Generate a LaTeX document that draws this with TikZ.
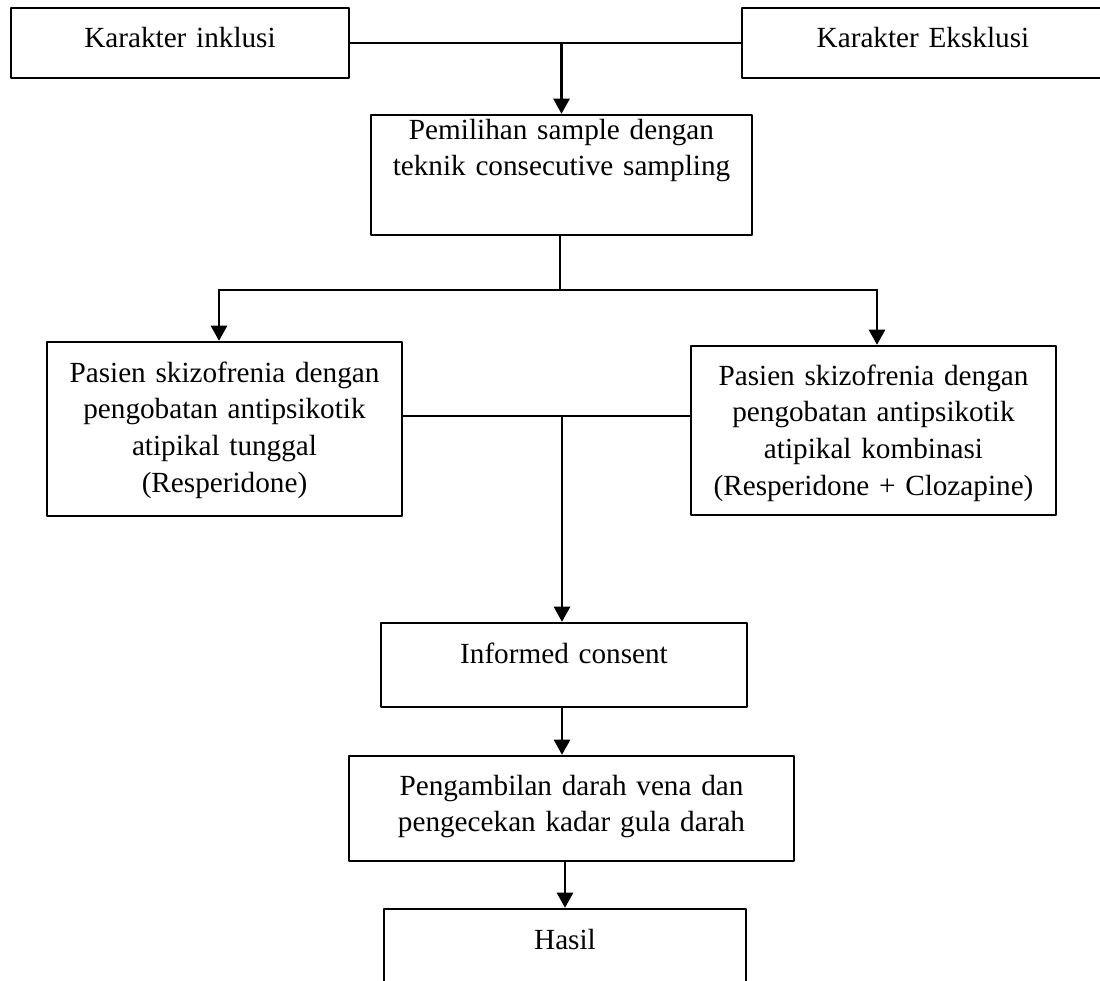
\documentclass[tikz,border=0pt]{standalone}
\usepackage{fontspec}
\setmainfont{Liberation Serif}
\usepackage{tikz}
\usetikzlibrary{calc}
\usetikzlibrary{arrows.meta}
\tikzstyle{every node}=[font=\fontsize{12}{15.08}\selectfont]
\tikzstyle{kotak}=[draw,line width=1pt,inner sep=0pt,align=center]

\begin{document}
\begin{tikzpicture}[line cap=round,line join=round,>={Triangle[width=6.6pt,length=6.2pt]},x=0.4108pt,y=0.4108pt,line width=1pt]
            \useasboundingbox (0,0) rectangle (1100,-980);
            % kriteria
            \node[kotak,text width=138.85pt,text height=16.02pt,text depth=12.73pt] (inklusi) at (180,-43) {Karakter inklusi};
            \node[kotak,text width=148.71pt,text height=16.02pt,text depth=12.73pt] (eksklusi) at (923,-43) {Karakter Eksklusi};
            \node[kotak,text width=156.51pt,text height=9.86pt,text depth=39.44pt] (sampel) at (561.5,-175) {Pemilihan sample dengan\\teknik consecutive sampling};
            % kelompok pasien
            \node[kotak,text width=145.83pt,text height=16.43pt,text depth=55.05pt] (tunggal) at (224.5,-429) {Pasien skizofrenia dengan\\pengobatan antipsikotik\\atipikal tunggal\\(Resperidone)};
            \node[kotak,text width=149.94pt,text height=16.02pt,text depth=53.40pt] (kombinasi) at (873.5,-430.5) {Pasien skizofrenia dengan\\pengobatan antipsikotik\\atipikal kombinasi\\(Resperidone + Clozapine)};
            % alur
            \node[kotak,text width=150.35pt,text height=16.43pt,text depth=18.08pt] (consent) at (564,-665) {Informed consent};
            \node[kotak,text width=182.81pt,text height=16.02pt,text depth=27.11pt] (darah) at (571.5,-808.5) {Pengambilan darah vena dan\\pengecekan kadar gula darah};
            \node[kotak,text width=148.71pt,text height=16.43pt,text depth=20.95pt] (hasil) at (565,-954.5) {Hasil};
            \coordinate (cabang) at (560,-290);
            \coordinate (kiri) at (219,-290);
            \coordinate (kanan) at (877,-290);
            \coordinate (gabung) at (562,-416);
            \draw (inklusi.east) -- (eksklusi.west);
            \draw [->] (sampel.north |- inklusi.east) -- (sampel.north);
            \draw (cabang |- sampel.south) -- (cabang);
            \draw (kiri) -- (kanan);
            \draw [->] (kiri) -- (kiri |- tunggal.north);
            \draw [->] (kanan) -- (kanan |- kombinasi.north);
            \draw (tunggal.east |- gabung) -- (kombinasi.west |- gabung);
            \draw [->] (gabung) -- (gabung |- consent.north);
            \draw [->] (gabung |- consent.south) -- (gabung |- darah.north);
            \draw [->] (hasil.north |- darah.south) -- (hasil.north);
            \end{tikzpicture}
\end{document}
